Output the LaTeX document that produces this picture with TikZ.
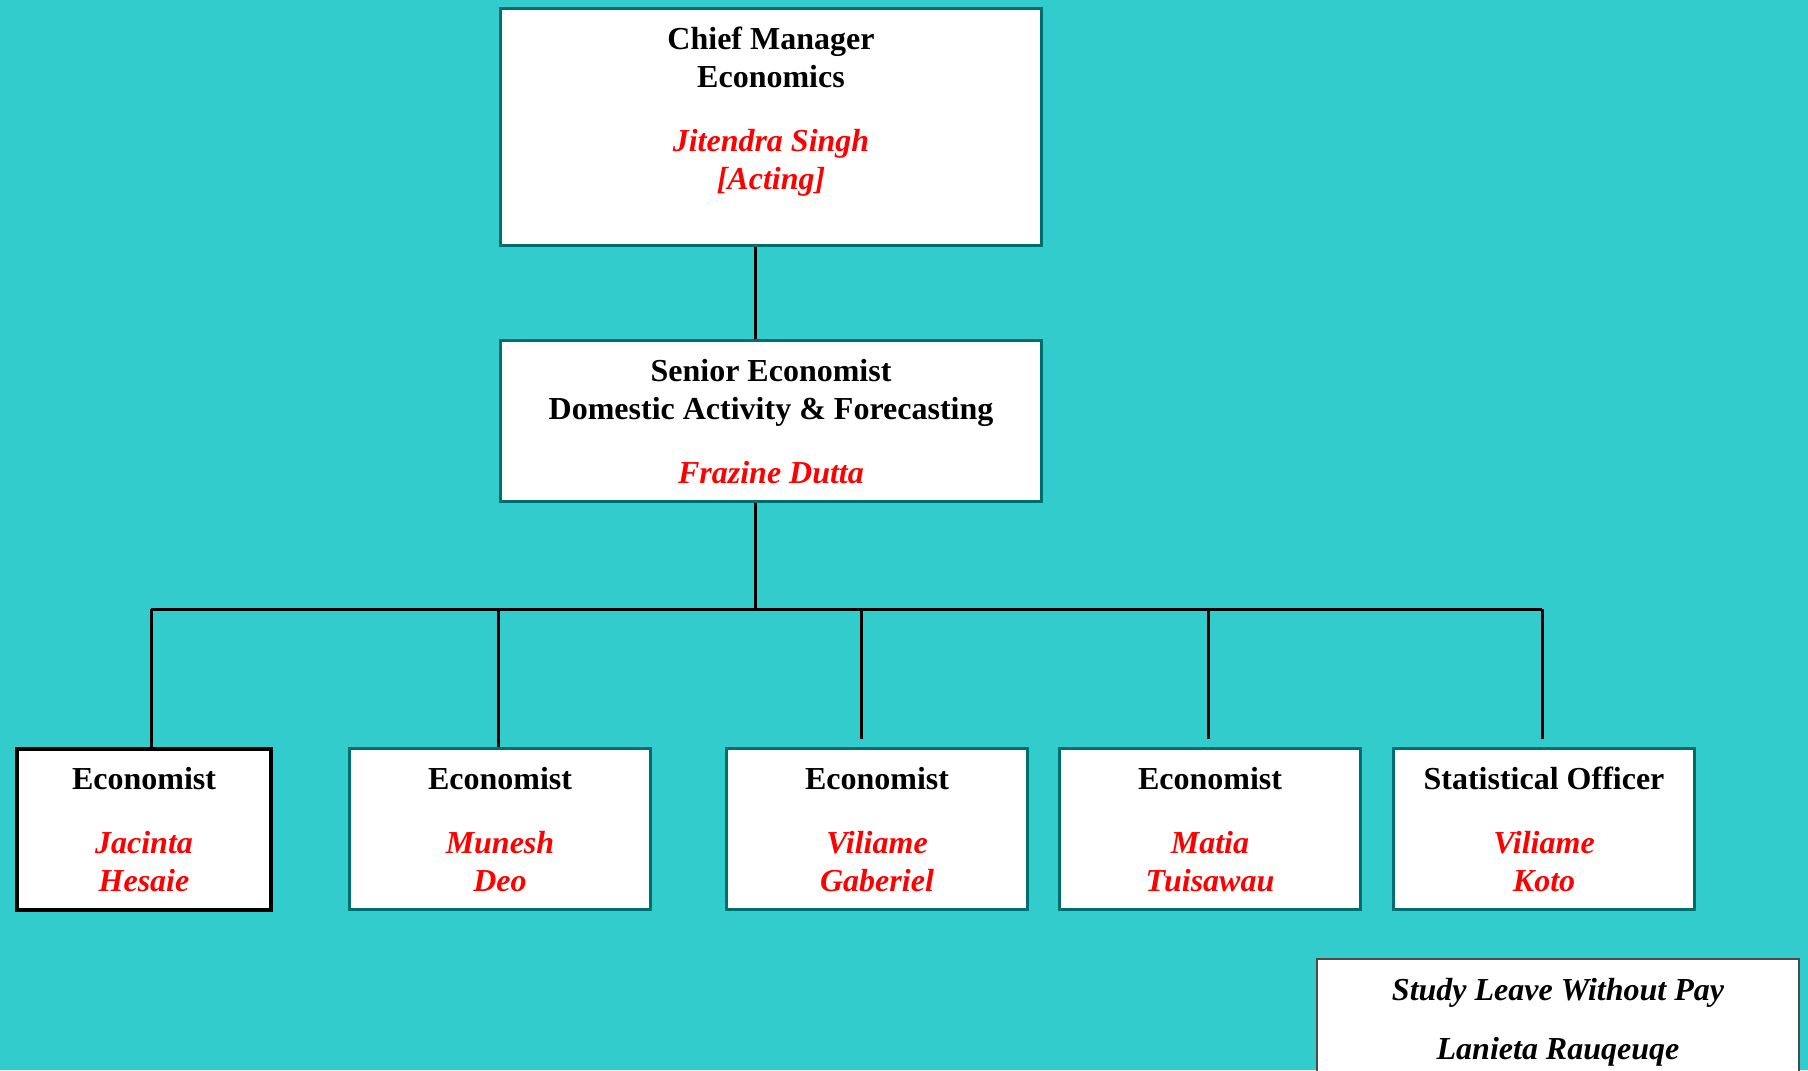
\documentclass[tikz,border=0pt]{standalone}
\usepackage{fontspec}
\setmainfont{Liberation Serif}
\usetikzlibrary{positioning}
\definecolor{sea}{RGB}{51,204,204}
\definecolor{boxline}{RGB}{0,110,110}
\definecolor{namered}{RGB}{255,0,0}
\tikzset{
  post/.style = {rectangle, draw=boxline, fill=white, line width=1.5pt,
                 minimum width=#1, minimum height=80.5pt,
                 inner sep=0pt, anchor=north west},
  post/.default = 150.5pt,
  posttext/.style = {align=center, inner sep=0pt, anchor=north,
                     font=\fontsize{16}{19}\selectfont\bfseries},
  link/.style = {draw=black, line width=1.5pt}
}
\newcommand{\who}[1]{\textcolor{namered}{\itshape #1}}

\begin{document}
\begin{tikzpicture}[x=0.5pt, y=-0.5pt]
	% Background
	\fill[sea] (0,0) rectangle (1808,1070);
	\useasboundingbox (0,0) rectangle (1808,1070);
	
	% Boxes
	\node[post=270.5pt, minimum height=118.5pt] (cm) at (499,7) {};
	\node[post=270.5pt] (sen) at (499,339) {};
	\node[post=127pt, draw=black, line width=2pt] (ec1) at (15,747) {};
	\node[post] (ec2) at (348,747) {};
	\node[post] (ec3) at (725,747) {};
	\node[post] (ec4) at (1058,747) {};
	\node[post] (so) at (1392,747) {};
	\node[post=241pt, minimum height=61pt, draw=black!70, line width=1pt] (leave) at (1316,958) {};
	
	% Texts
	\node[posttext, below=10pt of cm.north] (cm-t) {Chief Manager\\Economics\\[13pt]\who{Jitendra Singh}\\\who{[Acting]}};
	\node[posttext, below=10pt of sen.north] (sen-t) {Senior Economist\\Domestic Activity \& Forecasting\\[13pt]\who{Frazine Dutta}};
	\node[posttext, below=10pt of ec1.north] (ec1-t) {Economist\\[13pt]\who{Jacinta}\\\who{Hesaie}};
	\node[posttext, below=10pt of ec2.north] (ec2-t) {Economist\\[13pt]\who{Munesh}\\\who{Deo}};
	\node[posttext, below=10pt of ec3.north] (ec3-t) {Economist\\[13pt]\who{Viliame}\\\who{Gaberiel}};
	\node[posttext, below=10pt of ec4.north] (ec4-t) {Economist\\[13pt]\who{Matia}\\\who{Tuisawau}};
	\node[posttext, below=10pt of so.north] (so-t) {Statistical Officer\\[13pt]\who{Viliame}\\\who{Koto}};
	\node[posttext, below=10pt of leave.north] (leave-t) {\itshape Study Leave Without Pay\\[10.5pt]\itshape Lanieta Rauqeuqe};
	
	% Lines
	\coordinate (trunk) at (755,0);
	\coordinate (d1) at (151,609);
	\coordinate (d2) at (498,609);
	\coordinate (d3) at (861,609);
	\coordinate (d4) at (1208,609);
	\coordinate (d5) at (1542,609);
	
	\draw[link] (cm.south -| trunk) -- (sen.north -| trunk);
	\draw[link] (sen.south -| trunk) -- (d1 -| trunk);
	\draw[link] (d1) -- (d5);
	\draw[link] (d1) -- (d1 |- ec1.north);
	\draw[link] (d2) -- (d2 |- ec2.north);
	\draw[link, shorten >=4pt] (d3) -- (d3 |- ec3.north);
	\draw[link, shorten >=4pt] (d4) -- (d4 |- ec4.north);
	\draw[link, shorten >=4pt] (d5) -- (d5 |- so.north);
	
\end{tikzpicture}
\end{document}
